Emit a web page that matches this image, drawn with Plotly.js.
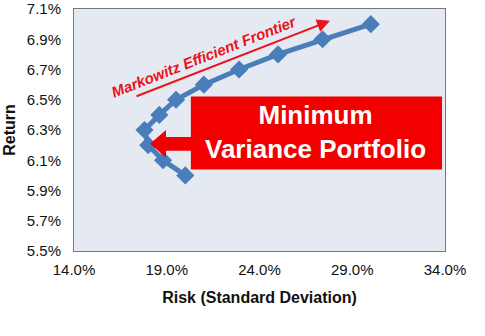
<!DOCTYPE html>
<html>
<head>
<meta charset="utf-8">
<script src="https://cdn.plot.ly/plotly-3.0.1.min.js"></script>
<style>html,body{margin:0;padding:0;background:#fff;}#chart{width:485px;height:336px;}</style>
</head>
<body>
<div id="chart"></div>
<script>
// Risk (standard deviation, %) and return (%) along the frontier
const risk = [20.0, 18.8, 18.0, 17.8, 18.6, 19.5, 21.0, 22.9, 25.0, 27.4, 30.0];
const ret  = [6.0, 6.1, 6.2, 6.3, 6.4, 6.5, 6.6, 6.7, 6.8, 6.9, 7.0];
const xTicks = [14, 19, 24, 29, 34];
const xTickText = ['14.0%', '19.0%', '24.0%', '29.0%', '34.0%'];
const yTicks = [5.5, 5.7, 5.9, 6.1, 6.3, 6.5, 6.7, 6.9, 7.1];
const yTickText = ['5.5%', '5.7%', '5.9%', '6.1%', '6.3%', '6.5%', '6.7%', '6.9%', '7.1%'];
const xTitle = 'Risk (Standard Deviation)';
const yTitle = 'Return';
const frontierLabel = 'Markowitz Efficient Frontier';
const boxLabel = 'Minimum<br>Variance Portfolio';

const trace = {
  x: risk, y: ret, type: 'scatter', mode: 'lines+markers',
  line: {color: '#4a7ebb', width: 5},
  marker: {symbol: 'diamond', size: 14, color: '#4a7ebb'},
  hoverinfo: 'skip'
};

const font = {family: 'Liberation Sans, Arial, sans-serif', color: '#000'};

const layout = {
  width: 485, height: 336,
  margin: {l: 74, r: 40, t: 9, b: 85},
  paper_bgcolor: '#ffffff',
  plot_bgcolor: '#e5eaf2',
  showlegend: false,
  font: font,
  xaxis: {
    range: [14, 34], tickmode: 'array', tickvals: xTicks, ticktext: xTickText,
    showgrid: false, zeroline: false, showline: true, mirror: true,
    linecolor: '#777', linewidth: 1, ticks: '', ticklabelstandoff: 5, ticklabeloverflow: 'allow',
    tickfont: {family: font.family, size: 15, color: '#111'},
    title: {text: xTitle, standoff: 14, font: {family: font.family, size: 16, color: '#111', weight: 'bold'}},
    fixedrange: true
  },
  yaxis: {
    range: [5.5, 7.1], tickmode: 'array', tickvals: yTicks, ticktext: yTickText,
    showgrid: false, zeroline: false, showline: true, mirror: true,
    linecolor: '#777', linewidth: 1, ticks: '', ticklabelstandoff: 9, ticklabeloverflow: 'allow',
    tickfont: {family: font.family, size: 15, color: '#111'},
    title: {text: yTitle, standoff: 7, font: {family: font.family, size: 16, color: '#111', weight: 'bold'}},
    fixedrange: true
  },
  shapes: [
    {type: 'rect', xref: 'paper', yref: 'paper', x0: 0.315, x1: 0.992, y0: 0.337, y1: 0.638,
     fillcolor: '#f20000', line: {width: 0}, layer: 'above'},
    {type: 'path', xref: 'paper', yref: 'paper', layer: 'above',
     path: 'M 0.2049 0.443 L 0.248 0.5 L 0.248 0.4715 L 0.318 0.4715 L 0.318 0.4146 L 0.248 0.4146 L 0.248 0.386 Z',
     fillcolor: '#f20000', line: {width: 0}}
  ],
  annotations: [
    {xref: 'paper', yref: 'paper', x: 0.652, y: 0.49, text: boxLabel, showarrow: false,
     xanchor: 'center', yanchor: 'middle',
     font: {family: font.family, size: 26, color: '#ffffff', weight: 'bold'}, align: 'center'},
    {xref: 'paper', yref: 'paper', x: 0.35, y: 0.805, text: frontierLabel, showarrow: false,
     xanchor: 'center', yanchor: 'middle', textangle: -21.5,
     font: {family: font.family, size: 15, color: '#e8141c', weight: 'bold', style: 'italic'}},
    {xref: 'paper', yref: 'paper', x: 0.69, y: 0.951, ax: -195, ay: 76, text: '',
     showarrow: true, arrowhead: 2, arrowsize: 1.3, arrowwidth: 2, arrowcolor: '#e8141c'}
  ]
};

Plotly.newPlot('chart', [trace], layout, {displayModeBar: false, staticPlot: true});
</script>
</body>
</html>
